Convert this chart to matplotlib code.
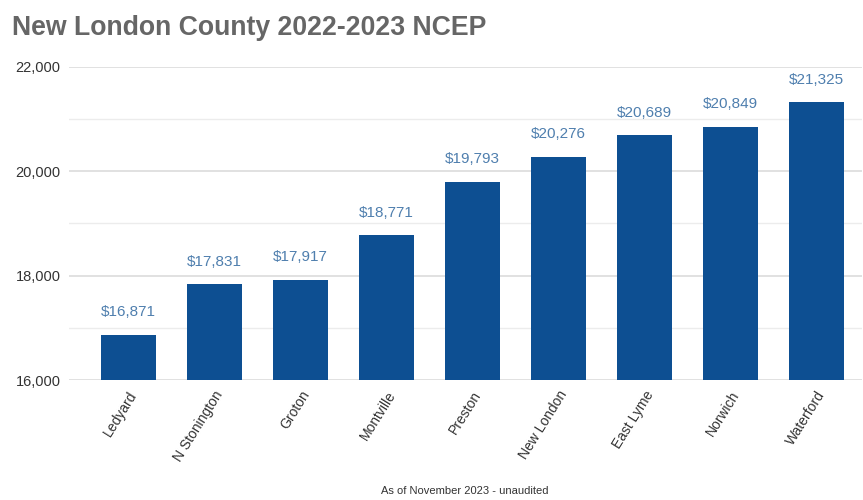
import matplotlib
matplotlib.use("Agg")
import matplotlib.pyplot as plt
from matplotlib.ticker import FuncFormatter, MultipleLocator

towns = ["Ledyard", "N Stonington", "Groton", "Montville", "Preston",
         "New London", "East Lyme", "Norwich", "Waterford"]
ncep = [16871, 17831, 17917, 18771, 19793, 20276, 20689, 20849, 21325]
y_ticks = [16000, 18000, 20000, 22000]

plt.rcParams["font.family"] = ["Liberation Sans", "DejaVu Sans"]

bar_color = "#0d4f92"
label_color = "#4f7fae"

fig = plt.figure(figsize=(8.63, 5.0), dpi=100)
ax = fig.add_axes([69 / 863, 1 - 380 / 500, (862 - 69) / 863, (380 - 67) / 500])

x = list(range(len(towns)))
ax.bar(x, ncep, width=0.64, color=bar_color, zorder=3)

for xi, v in zip(x, ncep):
    ax.text(xi, v + 300, f"${v:,}", ha="center", va="bottom",
            fontsize=11, color=label_color, zorder=4)

ax.set_ylim(16000, 22000)
ax.set_xlim(-0.687, 8.53)
ax.set_yticks(y_ticks)
ax.yaxis.set_minor_locator(MultipleLocator(1000))
ax.yaxis.set_major_formatter(FuncFormatter(lambda v, p: f"{int(v):,}"))
ax.grid(axis="y", which="major", color="#dcdcdc", linewidth=1.2, zorder=0)
ax.grid(axis="y", which="minor", color="#ececec", linewidth=1.0, zorder=0)
ax.tick_params(axis="y", which="both", length=0, labelsize=10.5,
               labelcolor="#333333", pad=6)
ax.tick_params(axis="x", length=0, labelsize=10, labelcolor="#333333", pad=6)
ax.set_xticks(x)
ax.set_xticklabels(towns, rotation=58, ha="right", rotation_mode="anchor")
for s in ax.spines.values():
    s.set_visible(False)

fig.text(12 / 863, 1 - 28 / 500, "New London County 2022-2023 NCEP",
         fontsize=19.2, fontweight="bold", color="#666666", va="center", ha="left")
fig.text(465 / 863, 1 - 491 / 500, "As of November 2023 - unaudited",
         fontsize=8, color="#333333", ha="center", va="center")

fig.savefig("out.png", dpi=100)
